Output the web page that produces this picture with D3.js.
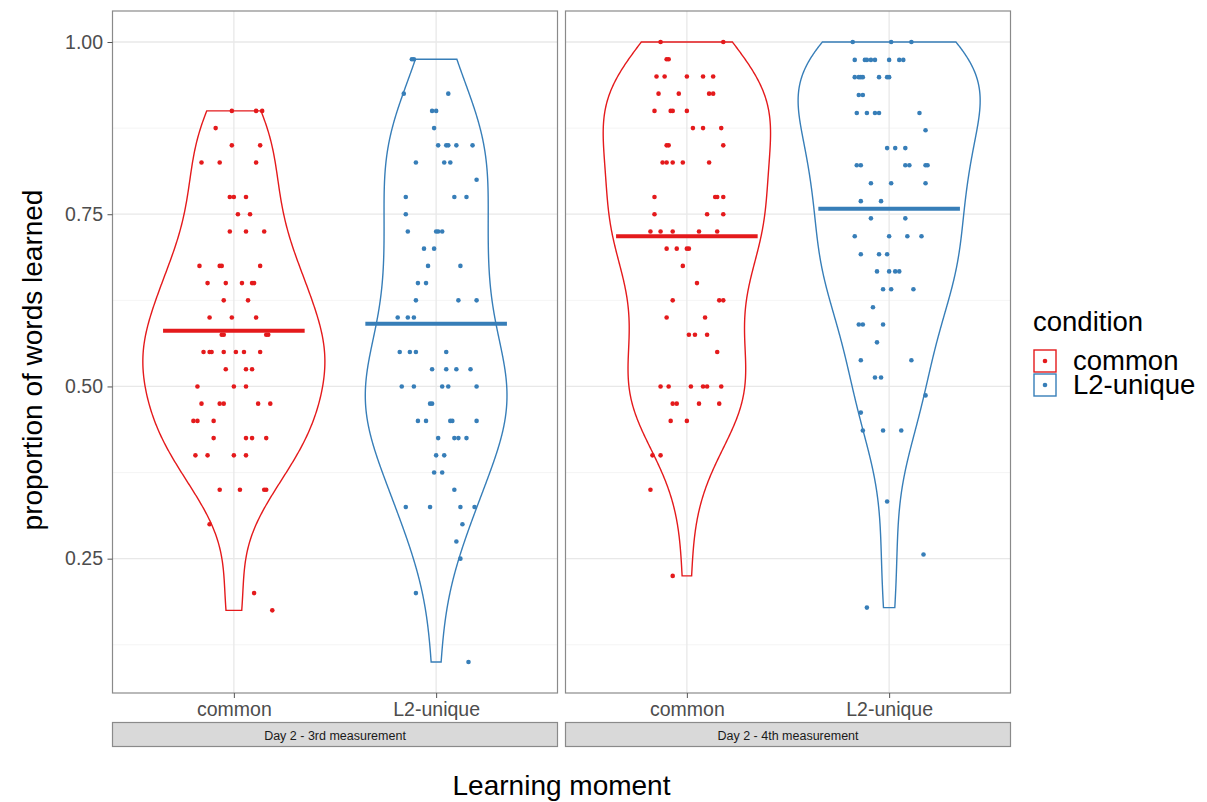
<!DOCTYPE html>
<html>
<head>
<meta charset="utf-8">
<script src="https://cdn.jsdelivr.net/npm/d3@7"></script>
<style>
  body { margin: 0; background: #fff; }
  text { font-family: "Liberation Sans", Arial, sans-serif; }
</style>
</head>
<body>
<svg id="chart"></svg>
<script>
// Categories and labels
const conditions = ["common", "L2-unique"];
const moments = ["Day 2 - 3rd measurement", "Day 2 - 4th measurement"];
const colors = ["#E41A1C", "#377EB8"];
const yTicks = [0.25, 0.5, 0.75, 1.0];
const yMinorTicks = [0.125, 0.375, 0.625, 0.875];

// Mean line per condition
const meansDay3 = [0.581, 0.591];
const meansDay4 = [0.718, 0.758];

// Points: [proportion learned, horizontal jitter in category units]
const day3Common = [
  [0.9, -0.01], [0.9, 0.11], [0.9, 0.14], [0.875, -0.09], [0.85, -0.01], [0.85, 0.13],
  [0.825, -0.16], [0.825, -0.07], [0.825, 0.11], [0.775, -0.02], [0.775, 0.0], [0.775, 0.06],
  [0.75, 0.02], [0.75, 0.08], [0.725, -0.02], [0.725, 0.06], [0.725, 0.15],
  [0.675, -0.17], [0.675, -0.07], [0.675, -0.06], [0.675, 0.13],
  [0.65, -0.13], [0.65, -0.04], [0.65, 0.04], [0.65, 0.09], [0.65, 0.10],
  [0.625, -0.05], [0.625, 0.07], [0.6, -0.12], [0.6, -0.01], [0.6, 0.11],
  [0.575, -0.06], [0.575, -0.05], [0.575, 0.16], [0.575, 0.17],
  [0.55, -0.15], [0.55, -0.12], [0.55, -0.11], [0.55, -0.05], [0.55, 0.01], [0.55, 0.05], [0.55, 0.13],
  [0.525, -0.04], [0.525, 0.06], [0.525, 0.09], [0.5, -0.18], [0.5, 0.0], [0.5, 0.06],
  [0.475, -0.16], [0.475, -0.07], [0.475, -0.05], [0.475, 0.12], [0.475, 0.18],
  [0.45, -0.20], [0.45, -0.18], [0.45, -0.10],
  [0.425, -0.10], [0.425, 0.06], [0.425, 0.09], [0.425, 0.16],
  [0.4, -0.19], [0.4, -0.13], [0.4, 0.0], [0.4, 0.06],
  [0.35, -0.07], [0.35, 0.03], [0.35, 0.15], [0.35, 0.16],
  [0.3, -0.12], [0.2, 0.10], [0.175, 0.19]
];
const day3Unique = [
  [0.975, -0.12], [0.975, -0.11], [0.925, -0.16], [0.925, 0.06], [0.9, -0.02], [0.9, 0.0],
  [0.875, -0.01], [0.85, 0.01], [0.85, 0.05], [0.85, 0.06], [0.85, 0.10], [0.85, 0.18],
  [0.825, -0.10], [0.825, 0.04], [0.825, 0.07], [0.8, 0.20],
  [0.775, -0.15], [0.775, 0.09], [0.775, 0.15], [0.75, -0.15],
  [0.725, -0.14], [0.725, 0.0], [0.725, 0.01], [0.725, 0.03], [0.7, -0.06], [0.7, -0.01],
  [0.675, -0.04], [0.675, 0.12], [0.65, -0.09], [0.65, -0.05],
  [0.625, -0.10], [0.625, 0.11], [0.625, 0.20], [0.6, -0.19], [0.6, -0.14], [0.6, -0.11],
  [0.55, -0.18], [0.55, -0.13], [0.55, -0.10], [0.55, 0.05],
  [0.525, -0.02], [0.525, 0.05], [0.525, 0.10], [0.525, 0.17],
  [0.5, -0.17], [0.5, -0.11], [0.5, 0.03], [0.5, 0.06], [0.5, 0.20], [0.475, -0.03], [0.475, -0.02],
  [0.45, -0.09], [0.45, -0.05], [0.45, 0.07], [0.45, 0.08], [0.45, 0.20],
  [0.425, 0.01], [0.425, 0.09], [0.425, 0.11], [0.425, 0.15], [0.4, 0.0], [0.4, 0.04],
  [0.375, -0.01], [0.375, 0.03], [0.35, 0.09],
  [0.325, -0.15], [0.325, -0.03], [0.325, 0.12], [0.325, 0.19],
  [0.3, 0.13], [0.275, 0.10], [0.25, 0.12], [0.2, -0.10], [0.1, 0.16]
];
const day4Common = [
  [1.0, -0.13], [1.0, 0.18], [0.975, -0.10], [0.975, -0.09],
  [0.95, -0.15], [0.95, -0.11], [0.95, 0.0], [0.95, 0.08], [0.95, 0.13],
  [0.925, -0.14], [0.925, -0.04], [0.925, 0.11], [0.925, 0.13],
  [0.9, -0.16], [0.9, -0.08], [0.9, -0.07], [0.9, 0.0], [0.875, 0.03], [0.875, 0.08], [0.875, 0.17],
  [0.85, -0.10], [0.85, -0.09], [0.85, 0.18],
  [0.825, -0.12], [0.825, -0.10], [0.825, -0.07], [0.825, -0.02], [0.825, 0.11],
  [0.775, -0.16], [0.775, 0.14], [0.775, 0.15], [0.775, 0.18], [0.75, -0.16], [0.75, 0.10], [0.75, 0.18],
  [0.725, -0.18], [0.725, -0.13], [0.725, -0.07], [0.725, 0.06], [0.725, 0.15],
  [0.7, -0.10], [0.7, -0.05], [0.7, 0.0], [0.7, 0.01], [0.675, -0.02], [0.65, 0.05],
  [0.625, -0.07], [0.625, 0.16], [0.625, 0.18], [0.6, -0.10], [0.6, 0.09],
  [0.575, 0.01], [0.575, 0.04], [0.575, 0.10], [0.55, 0.15],
  [0.5, -0.13], [0.5, -0.09], [0.5, 0.02], [0.5, 0.08], [0.5, 0.10], [0.5, 0.17],
  [0.475, -0.07], [0.475, -0.05], [0.475, 0.06], [0.475, 0.16], [0.45, -0.08], [0.45, 0.0],
  [0.4, -0.17], [0.4, -0.13], [0.35, -0.18], [0.225, -0.07]
];
const day4Unique = [
  [1.0, -0.18], [1.0, 0.01], [1.0, 0.11],
  [0.974, -0.17], [0.974, -0.12], [0.974, -0.11], [0.974, -0.09], [0.974, -0.07], [0.974, 0.0], [0.974, 0.05], [0.974, 0.07],
  [0.949, -0.17], [0.949, -0.15], [0.949, -0.14], [0.949, -0.13], [0.949, -0.05], [0.949, -0.01], [0.949, 0.0],
  [0.923, -0.15], [0.923, -0.13],
  [0.897, -0.16], [0.897, -0.11], [0.897, -0.07], [0.897, -0.05], [0.897, 0.15], [0.872, 0.18],
  [0.846, -0.01], [0.846, 0.03], [0.846, 0.08],
  [0.821, -0.16], [0.821, -0.14], [0.821, 0.08], [0.821, 0.10], [0.821, 0.18], [0.821, 0.19],
  [0.795, -0.09], [0.795, 0.01], [0.795, 0.18], [0.769, -0.14], [0.769, -0.04],
  [0.744, -0.09], [0.744, 0.08], [0.718, -0.17], [0.718, 0.0], [0.718, 0.09], [0.718, 0.16],
  [0.692, -0.14], [0.692, -0.05], [0.692, -0.01],
  [0.667, -0.06], [0.667, 0.0], [0.667, 0.03], [0.667, 0.05],
  [0.641, -0.03], [0.641, 0.01], [0.641, 0.12], [0.615, -0.08],
  [0.59, -0.15], [0.59, -0.13], [0.59, -0.03], [0.564, -0.06], [0.538, -0.14], [0.538, 0.11],
  [0.513, -0.07], [0.513, -0.04], [0.487, 0.18], [0.462, -0.14],
  [0.436, -0.13], [0.436, -0.03], [0.436, 0.06],
  [0.333, -0.01], [0.256, 0.17], [0.179, -0.11]
];

const panels = [
  { title: moments[0], groups: [day3Common, day3Unique], means: meansDay3 },
  { title: moments[1], groups: [day4Common, day4Unique], means: meansDay4 }
];

// Set the dimensions of the page and the panels
const width = 1207, height = 802;
const panelLeft = 112.5, panelWidth = 445, panelGap = 8;
const panelTop = 11, panelHeight = 682;

const svg = d3.select("#chart").attr("width", width).attr("height", height);
svg.append("rect").attr("width", width).attr("height", height).attr("fill", "#fff");

// Shared y scale (ggplot expands the data range by 5%)
const y = d3.scaleLinear().domain([0.055, 1.045]).range([panelTop + panelHeight, panelTop]);

// Gaussian kernel density with R's nrd0 bandwidth, trimmed to the data range
function violinDensity(vals) {
  const s = vals.slice().sort(d3.ascending);
  const n = s.length;
  const sd = d3.deviation(s);
  const iqr = d3.quantile(s, 0.75) - d3.quantile(s, 0.25);
  const bw = 0.9 * Math.min(sd, iqr / 1.34) * Math.pow(n, -0.2);
  const lo = s[0], hi = s[n - 1];
  return d3.range(512).map(function (i) {
    const yy = lo + (hi - lo) * i / 511;
    const dens = d3.sum(s, function (v) {
      const z = (yy - v) / bw;
      return Math.exp(-0.5 * z * z);
    }) / (n * bw * Math.sqrt(2 * Math.PI));
    return { y: yy, d: dens };
  });
}

panels.forEach(function (p, pi) {
  const left = panelLeft + pi * (panelWidth + panelGap);
  const x = d3.scalePoint().domain(conditions).range([left, left + panelWidth]).padding(0.6);
  const g = svg.append("g");

  // Grid lines
  g.selectAll(".minor").data(yMinorTicks).enter().append("line")
    .attr("x1", left).attr("x2", left + panelWidth)
    .attr("y1", d => y(d)).attr("y2", d => y(d))
    .attr("stroke", "#f1f1f1").attr("stroke-width", 0.8);
  g.selectAll(".major").data(yTicks).enter().append("line")
    .attr("x1", left).attr("x2", left + panelWidth)
    .attr("y1", d => y(d)).attr("y2", d => y(d))
    .attr("stroke", "#e8e8e8").attr("stroke-width", 1.3);
  g.selectAll(".vmajor").data(conditions).enter().append("line")
    .attr("x1", d => x(d)).attr("x2", d => x(d))
    .attr("y1", panelTop).attr("y2", panelTop + panelHeight)
    .attr("stroke", "#e8e8e8").attr("stroke-width", 1.3);

  // Violins: width scaled to the largest density in the panel
  const dens = p.groups.map(grp => violinDensity(grp.map(d => d[0])));
  const maxD = d3.max(dens, arr => d3.max(arr, d => d.d));
  const w = d3.scaleLinear().domain([0, maxD]).range([0, 0.45 * x.step()]);

  dens.forEach(function (arr, gi) {
    const cx = x(conditions[gi]);
    const area = d3.area()
      .x0(d => cx - w(d.d))
      .x1(d => cx + w(d.d))
      .y(d => y(d.y));
    g.append("path")
      .datum(arr)
      .attr("d", area)
      .attr("fill", "none")
      .attr("stroke", colors[gi])
      .attr("stroke-width", 1.4);
  });

  // Jittered points
  p.groups.forEach(function (grp, gi) {
    g.selectAll(".pt" + gi).data(grp).enter().append("circle")
      .attr("cx", d => x(conditions[gi]) + d[1] * x.step())
      .attr("cy", d => y(d[0]))
      .attr("r", 2.3)
      .attr("fill", colors[gi]);
  });

  // Mean lines
  p.means.forEach(function (m, gi) {
    const cx = x(conditions[gi]);
    g.append("line")
      .attr("x1", cx - 0.35 * x.step()).attr("x2", cx + 0.35 * x.step())
      .attr("y1", y(m)).attr("y2", y(m))
      .attr("stroke", colors[gi]).attr("stroke-width", 4);
  });

  // Panel border
  g.append("rect")
    .attr("x", left).attr("y", panelTop)
    .attr("width", panelWidth).attr("height", panelHeight)
    .attr("fill", "none").attr("stroke", "#8a8a8a").attr("stroke-width", 1.2);

  // x axis
  const xAxis = svg.append("g")
    .attr("transform", "translate(0," + (panelTop + panelHeight) + ")")
    .call(d3.axisBottom(x).tickSize(5).tickPadding(4));
  xAxis.select(".domain").remove();
  xAxis.selectAll("line").attr("stroke", "#555");
  xAxis.selectAll("text")
    .style("font-family", "Liberation Sans, Arial, sans-serif")
    .style("font-size", "19.5px").attr("fill", "#4d4d4d");

  // Strip below the axis
  svg.append("rect")
    .attr("x", left).attr("y", 722.5)
    .attr("width", panelWidth).attr("height", 24)
    .attr("fill", "#d9d9d9").attr("stroke", "#8a8a8a").attr("stroke-width", 1.2);
  svg.append("text")
    .attr("x", left + panelWidth / 2).attr("y", 739.5)
    .attr("text-anchor", "middle")
    .style("font-size", "12.5px").attr("fill", "#1a1a1a")
    .text(p.title);
});

// y axis
const yAxis = svg.append("g")
  .attr("transform", "translate(" + panelLeft + ",0)")
  .call(d3.axisLeft(y).tickValues(yTicks).tickFormat(d3.format(".2f")).tickSize(5).tickPadding(4.5));
yAxis.select(".domain").remove();
yAxis.selectAll("line").attr("stroke", "#555");
yAxis.selectAll("text")
  .style("font-family", "Liberation Sans, Arial, sans-serif")
  .style("font-size", "19.5px").attr("fill", "#4d4d4d");

// Axis titles
svg.append("text")
  .attr("transform", "translate(41.5,360) rotate(-90)")
  .attr("text-anchor", "middle")
  .style("font-size", "28px")
  .text("proportion of words learned");
svg.append("text")
  .attr("x", 561.5).attr("y", 795)
  .attr("text-anchor", "middle")
  .style("font-size", "28px")
  .text("Learning moment");

// Legend
const legend = svg.append("g").attr("transform", "translate(1033,0)");
legend.append("text").attr("x", 0).attr("y", 331)
  .style("font-size", "27.5px").text("condition");
conditions.forEach(function (c, i) {
  const top = 349 + i * 24;
  legend.append("rect")
    .attr("x", 1).attr("y", top + 1).attr("width", 22).attr("height", 22)
    .attr("fill", "#fff").attr("stroke", colors[i]).attr("stroke-width", 1.4);
  legend.append("circle").attr("cx", 12).attr("cy", top + 12).attr("r", 2.3).attr("fill", colors[i]);
  legend.append("text").attr("x", 40).attr("y", top + 20.5)
    .style("font-size", "27.5px").text(c);
});
</script>
</body>
</html>
